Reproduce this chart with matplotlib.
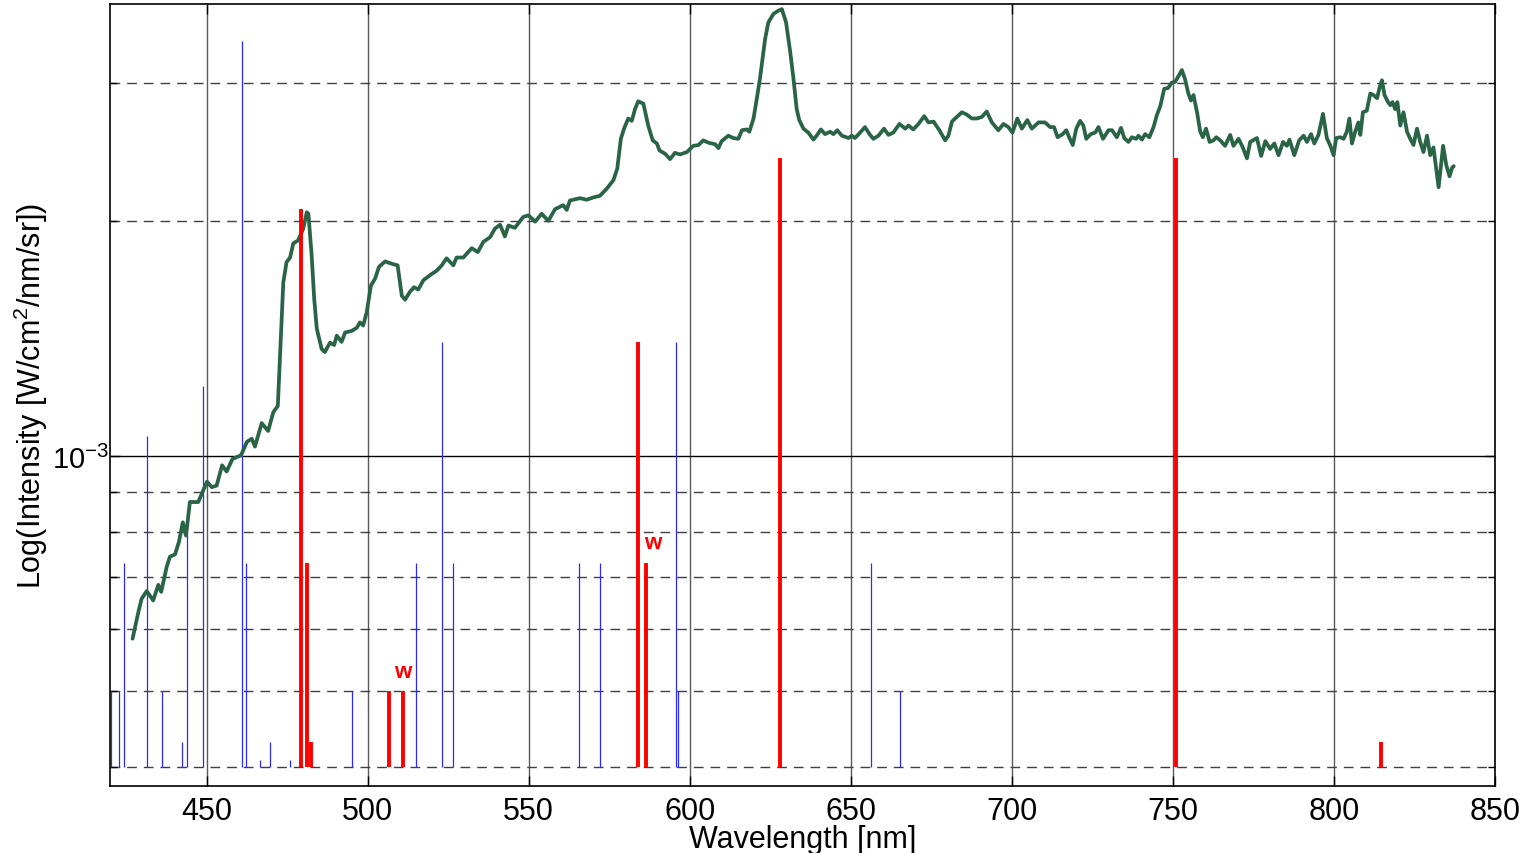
import numpy as np
import matplotlib
matplotlib.use("Agg")
import matplotlib.pyplot as plt
from matplotlib.ticker import LogLocator, NullFormatter, FixedLocator

plt.rcParams["font.family"] = ["Liberation Sans", "DejaVu Sans"]
plt.rcParams["mathtext.fontset"] = "custom"
plt.rcParams["mathtext.rm"] = "Liberation Sans"
plt.rcParams["mathtext.default"] = "regular"

# measured spectrum: wavelength [nm] and log10 of intensity
wavelength = [
    427.0, 428.8, 429.8, 431.4, 433.4, 435.0, 435.9, 437.6, 438.6, 440.2,
    441.4, 442.6, 443.6, 444.8, 447.4, 450.1, 451.6, 453.1, 454.8, 456.2,
    458.0, 460.7, 462.5, 464.0, 465.0, 467.1, 469.1, 470.7, 472.1, 472.8,
    473.8, 474.8, 475.9, 476.9, 478.4, 480.0, 481.1, 481.6, 482.6, 483.4,
    484.2, 485.7, 486.7, 488.3, 489.6, 490.4, 491.9, 493.0, 495.0, 496.6,
    497.6, 498.6, 499.7, 501.0, 502.3, 503.5, 505.4, 507.5, 509.3, 510.6,
    511.6, 513.1, 514.4, 515.7, 517.3, 519.9, 521.4, 523.0, 524.5, 526.6,
    527.6, 529.7, 532.3, 534.2, 535.9, 538.0, 539.5, 541.1, 542.6, 543.7,
    545.7, 548.3, 549.9, 552.0, 554.0, 556.1, 558.2, 560.7, 561.8, 562.8,
    565.9, 568.0, 570.1, 572.1, 574.2, 576.3, 577.5, 578.6, 579.6, 580.9,
    582.0, 583.0, 584.0, 585.6, 587.1, 588.5, 589.8, 590.6, 592.3, 593.9,
    595.4, 597.0, 599.1, 601.1, 602.7, 604.2, 605.8, 607.9, 608.9, 609.9,
    612.0, 613.5, 615.1, 616.2, 617.7, 618.5, 619.8, 620.8, 621.8, 623.4,
    624.4, 626.0, 627.5, 628.6, 629.9, 631.2, 632.2, 633.2, 634.0, 635.3,
    636.8, 638.4, 639.4, 640.7, 642.0, 643.6, 644.6, 645.8, 647.2, 649.3,
    650.3, 651.3, 652.9, 654.4, 655.8, 657.0, 658.6, 660.3, 661.7, 663.2,
    665.1, 666.9, 667.9, 669.4, 671.0, 672.8, 674.1, 675.7, 677.5, 679.3,
    680.3, 681.4, 682.4, 684.5, 686.0, 687.6, 689.1, 690.7, 692.2, 693.8,
    695.8, 697.4, 698.9, 700.2, 701.7, 703.1, 704.8, 706.2, 708.3, 710.3,
    711.9, 713.1, 714.2, 715.8, 716.9, 717.9, 718.9, 720.0, 721.2, 722.2,
    723.1, 724.5, 725.9, 726.9, 728.3, 730.0, 731.1, 732.6, 733.9, 734.9,
    736.2, 737.3, 738.6, 739.3, 740.4, 741.4, 742.7, 744.0, 745.0, 746.1,
    747.3, 748.5, 749.7, 750.7, 751.7, 752.8, 753.8, 754.8, 755.6, 756.4,
    757.5, 758.5, 759.3, 760.3, 761.4, 762.6, 763.5, 764.7, 766.2, 767.8,
    768.8, 770.4, 771.7, 773.0, 774.0, 776.1, 777.4, 778.7, 780.2, 781.5,
    782.8, 784.2, 785.4, 786.2, 787.7, 789.2, 790.6, 791.6, 792.9, 793.9,
    795.2, 796.6, 797.8, 798.9, 799.9, 800.7, 802.0, 803.0, 804.0, 804.8,
    805.6, 806.6, 807.6, 808.2, 809.0, 810.2, 811.3, 812.3, 813.4, 814.2,
    814.9, 815.7, 816.8, 817.5, 818.2, 819.0, 819.7, 820.6, 821.6, 822.7,
    823.7, 824.7, 825.8, 826.8, 827.8, 828.9, 829.9, 830.9, 832.5, 833.9,
    834.9, 835.9, 836.7, 837.2,
]
log_intensity = [
    -3.234, -3.200, -3.183, -3.173, -3.185, -3.165, -3.174, -3.142, -3.129, -3.126,
    -3.110, -3.085, -3.102, -3.059, -3.059, -3.033, -3.040, -3.038, -3.012, -3.020,
    -3.004, -2.999, -2.982, -2.978, -2.988, -2.958, -2.968, -2.944, -2.936, -2.872,
    -2.778, -2.752, -2.746, -2.728, -2.724, -2.709, -2.688, -2.690, -2.743, -2.799,
    -2.837, -2.863, -2.867, -2.855, -2.858, -2.846, -2.854, -2.842, -2.840, -2.836,
    -2.829, -2.833, -2.816, -2.782, -2.773, -2.758, -2.751, -2.754, -2.756, -2.795,
    -2.800, -2.790, -2.784, -2.787, -2.775, -2.767, -2.763, -2.756, -2.747, -2.756,
    -2.746, -2.746, -2.734, -2.739, -2.726, -2.720, -2.709, -2.704, -2.719, -2.705,
    -2.708, -2.694, -2.692, -2.700, -2.690, -2.699, -2.684, -2.679, -2.685, -2.673,
    -2.670, -2.672, -2.669, -2.667, -2.658, -2.647, -2.632, -2.594, -2.581, -2.568,
    -2.571, -2.556, -2.546, -2.549, -2.577, -2.596, -2.600, -2.609, -2.613, -2.620,
    -2.612, -2.614, -2.611, -2.603, -2.602, -2.596, -2.599, -2.601, -2.606, -2.597,
    -2.590, -2.593, -2.594, -2.583, -2.582, -2.585, -2.568, -2.543, -2.517, -2.466,
    -2.445, -2.434, -2.430, -2.428, -2.445, -2.483, -2.517, -2.556, -2.570, -2.581,
    -2.586, -2.595, -2.590, -2.582, -2.588, -2.585, -2.588, -2.583, -2.590, -2.593,
    -2.590, -2.593, -2.586, -2.579, -2.588, -2.594, -2.590, -2.581, -2.589, -2.586,
    -2.575, -2.581, -2.577, -2.582, -2.575, -2.565, -2.573, -2.572, -2.583, -2.596,
    -2.590, -2.572, -2.568, -2.560, -2.563, -2.568, -2.568, -2.566, -2.559, -2.573,
    -2.583, -2.575, -2.579, -2.586, -2.568, -2.581, -2.570, -2.581, -2.573, -2.573,
    -2.579, -2.579, -2.592, -2.588, -2.583, -2.593, -2.602, -2.581, -2.571, -2.577,
    -2.594, -2.588, -2.586, -2.579, -2.594, -2.583, -2.583, -2.592, -2.580, -2.593,
    -2.598, -2.592, -2.594, -2.590, -2.595, -2.588, -2.592, -2.579, -2.564, -2.552,
    -2.530, -2.529, -2.522, -2.521, -2.514, -2.506, -2.518, -2.536, -2.545, -2.538,
    -2.560, -2.585, -2.592, -2.581, -2.598, -2.596, -2.592, -2.596, -2.603, -2.589,
    -2.603, -2.594, -2.605, -2.619, -2.598, -2.593, -2.616, -2.597, -2.607, -2.600,
    -2.615, -2.598, -2.603, -2.595, -2.615, -2.596, -2.590, -2.598, -2.588, -2.600,
    -2.589, -2.562, -2.593, -2.603, -2.615, -2.593, -2.592, -2.594, -2.585, -2.568,
    -2.600, -2.585, -2.573, -2.589, -2.560, -2.558, -2.536, -2.538, -2.542, -2.528,
    -2.519, -2.538, -2.547, -2.551, -2.547, -2.556, -2.547, -2.577, -2.560, -2.585,
    -2.594, -2.602, -2.581, -2.598, -2.611, -2.590, -2.615, -2.605, -2.656, -2.603,
    -2.628, -2.642, -2.631, -2.629,
]

# reference lines (thin blue) and identified lines (thick red)
blue_lines_nm = [420.3, 422.9, 424.3, 431.5, 436.2, 442.2, 444.0, 448.9, 461.1, 462.2,
                 466.5, 469.7, 476.0, 495.0, 514.9, 523.2, 526.4, 565.6, 572.2, 595.7,
                 596.3, 656.3, 665.3]
blue_lines_top = [5.0e-4, 5.0e-4, 7.3e-4, 1.06e-3, 5.0e-4, 4.3e-4, 8.0e-4, 1.23e-3, 3.40e-3, 7.3e-4,
                  4.08e-4, 4.3e-4, 4.08e-4, 5.0e-4, 7.3e-4, 1.40e-3, 7.3e-4, 7.3e-4, 7.3e-4, 1.40e-3,
                  5.0e-4, 7.3e-4, 5.0e-4]
red_lines_nm = [479.3, 481.2, 482.4, 506.6, 511.0, 583.9, 586.4, 628.0, 751.0, 814.7]
red_lines_top = [2.07e-3, 7.3e-4, 4.3e-4, 5.0e-4, 5.0e-4, 1.40e-3, 7.3e-4, 2.41e-3, 2.41e-3, 4.3e-4]
line_base = 4.0e-4

# "w" markers next to weak lines
w_labels_nm = [510.9, 588.6]
w_labels_val = [5.3e-4, 7.75e-4]

intensity = 10 ** np.array(log_intensity)

fig = plt.figure(figsize=(15.3, 8.54), dpi=100)
ax = fig.add_axes([0.0719, 0.0785, 0.9052, 0.9157])

ax.vlines(blue_lines_nm, line_base, blue_lines_top, colors="#2a2aff", linewidth=0.9, zorder=2)
ax.plot(wavelength, intensity, color="#2a6447", linewidth=2.7, zorder=3,
        solid_joinstyle="round", solid_capstyle="round")
ax.vlines(red_lines_nm, line_base, red_lines_top, colors="#ff0000", linewidth=2.8, zorder=4)
for xw, yw in zip(w_labels_nm, w_labels_val):
    ax.text(xw, yw, "w", color="#ff0000", fontsize=16, fontweight="bold",
            ha="center", va="center", zorder=5)

ax.set_yscale("log")
ax.set_xlim(420, 850)
ax.set_ylim(3.78e-4, 3.79e-3)

ax.xaxis.set_major_locator(FixedLocator([450, 500, 550, 600, 650, 700, 750, 800, 850]))
ax.yaxis.set_major_locator(LogLocator(base=10))
ax.yaxis.set_minor_locator(LogLocator(base=10, subs=np.arange(2, 10)))
ax.yaxis.set_minor_formatter(NullFormatter())
ax.set_yticks([1e-3])
ax.set_yticklabels(["$10^{-3}$"])

ax.tick_params(axis="both", which="both", direction="in", top=True, right=True,
               width=1.0, color="black")
ax.tick_params(axis="x", labelsize=22, pad=7)
ax.tick_params(axis="y", labelsize=21, pad=1)
ax.tick_params(axis="both", which="major", length=7)
ax.tick_params(axis="y", which="minor", length=5)

dash = (0, (7, 5))
ax.xaxis.grid(True, which="major", color="0.35", linestyle="-", linewidth=1.0)
ax.yaxis.grid(True, which="major", color="0.0", linestyle="-", linewidth=1.0)
ax.yaxis.grid(True, which="minor", color="0.25", linestyle=dash, linewidth=1.0)
ax.set_axisbelow(True)

for sp in ax.spines.values():
    sp.set_linewidth(1.2)
    sp.set_color("black")

ax.set_xlabel("Wavelength [nm]", fontsize=22, labelpad=-1)
ax.set_ylabel("Log(Intensity [W/cm$^2$/nm/sr])", fontsize=22)
ax.yaxis.set_label_coords(-0.043, 0.5)

fig.savefig("out.png", dpi=100)
